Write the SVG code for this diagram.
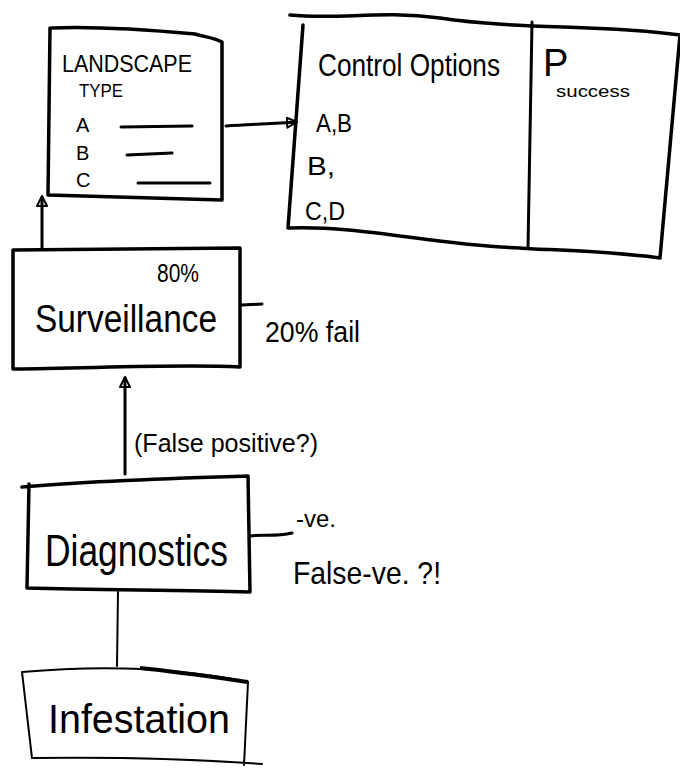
<svg xmlns="http://www.w3.org/2000/svg" width="680" height="770" viewBox="0 0 680 770">
  <defs>
    <style>
      .box { fill: none; stroke: #000; stroke-width: 3.5; stroke-linejoin: round; stroke-linecap: round; }
      .thin { fill: none; stroke: #000; stroke-width: 2; stroke-linecap: round; }
      .line { fill: none; stroke: #000; stroke-width: 3; stroke-linecap: round; }
      text { font-family: "Liberation Sans", "DejaVu Sans", sans-serif; fill: #000; }
    </style>
    <marker id="arrow" viewBox="0 0 12 12" refX="10" refY="6" markerWidth="12" markerHeight="12" markerUnits="userSpaceOnUse" orient="auto">
      <path d="M1,1 L11,6 L1,11 Z" fill="none" stroke="#000" stroke-width="2" stroke-linejoin="round"/>
    </marker>
  </defs>
  <rect width="680" height="770" fill="#fff"/>

  <!-- connectors -->
  <g id="connectors">
    <path class="line" d="M226,126 C250,124 270,124 296,122" marker-end="url(#arrow)"/>
    <path class="line" d="M42,248 L42,197" marker-end="url(#arrow)"/>
    <path class="line" d="M125,474 L125,378" marker-end="url(#arrow)"/>
    <path class="thin" d="M118,592 L117,666"/>
    <path class="line" d="M242,305 L262,304"/>
    <path class="line" d="M250,536 C262,534 275,537 292,533"/>
  </g>

  <!-- landscape type table -->
  <g id="landscape">
    <path class="box" d="M52,28 C100,26 150,30 195,34 C205,37 215,38 222,42 L222,200 C170,199 100,196 48,195 L50,28"/>
    <text x="62" y="72" font-size="24" textLength="130" lengthAdjust="spacingAndGlyphs">LANDSCAPE</text>
    <text x="79" y="97" font-size="19" textLength="44" lengthAdjust="spacingAndGlyphs">TYPE</text>
    <text x="76" y="132" font-size="20">A</text>
    <text x="76" y="160" font-size="20">B</text>
    <text x="76" y="187" font-size="20">C</text>
    <path class="line" d="M121,127 L192,126"/>
    <path class="line" d="M127,155 L172,153"/>
    <path class="line" d="M138,183 L210,183"/>
  </g>

  <!-- control options table -->
  <g id="control">
    <path class="box" d="M290,15 C340,20 380,10 440,18 C520,30 600,24 680,35 L660,258 C600,250 540,250 520,248 C440,246 360,225 288,228 L303,25"/>
    <path class="line" d="M532,22 L528,248"/>
    <text x="318" y="76" font-size="32" textLength="182" lengthAdjust="spacingAndGlyphs">Control Options</text>
    <text x="543" y="76" font-size="38">P</text>
    <text x="556" y="97" font-size="17" textLength="74" lengthAdjust="spacingAndGlyphs">success</text>
    <text x="316" y="132" font-size="26" textLength="36" lengthAdjust="spacingAndGlyphs">A,B</text>
    <text x="307" y="175" font-size="26" textLength="28" lengthAdjust="spacingAndGlyphs">B,</text>
    <text x="305" y="220" font-size="26" textLength="40" lengthAdjust="spacingAndGlyphs">C,D</text>
  </g>

  <!-- surveillance -->
  <g id="surveillance">
    <path class="box" d="M13,250 L240,248 L240,367 C180,364 100,368 13,369 Z"/>
    <text x="157" y="282" font-size="26" textLength="42" lengthAdjust="spacingAndGlyphs">80%</text>
    <text x="35" y="332" font-size="38" textLength="182" lengthAdjust="spacingAndGlyphs">Surveillance</text>
    <text x="265" y="342" font-size="30" textLength="95" lengthAdjust="spacingAndGlyphs">20% fail</text>
  </g>

  <!-- diagnostics -->
  <g id="diagnostics">
    <path class="box" d="M22,487 C100,480 180,478 248,476 L250,592 C180,590 100,590 27,588 L29,484"/>
    <text x="134" y="452" font-size="26" textLength="184" lengthAdjust="spacingAndGlyphs">(False positive?)</text>
    <text x="45" y="566" font-size="44" textLength="183" lengthAdjust="spacingAndGlyphs">Diagnostics</text>
    <text x="296" y="527" font-size="24" textLength="40" lengthAdjust="spacingAndGlyphs">-ve.</text>
    <text x="293" y="584" font-size="32" textLength="148" lengthAdjust="spacingAndGlyphs">False-ve. ?!</text>
  </g>

  <!-- infestation -->
  <g id="infestation">
    <path class="thin" d="M22,672 C100,665 180,668 248,682 L244,765 M22,672 L32,758 C110,757 180,758 262,764"/>
    <path d="M140,668 C180,672 220,678 248,682" stroke="#000" stroke-width="4" fill="none"/>
    <text x="48" y="733" font-size="40" textLength="182" lengthAdjust="spacingAndGlyphs">Infestation</text>
  </g>
</svg>
